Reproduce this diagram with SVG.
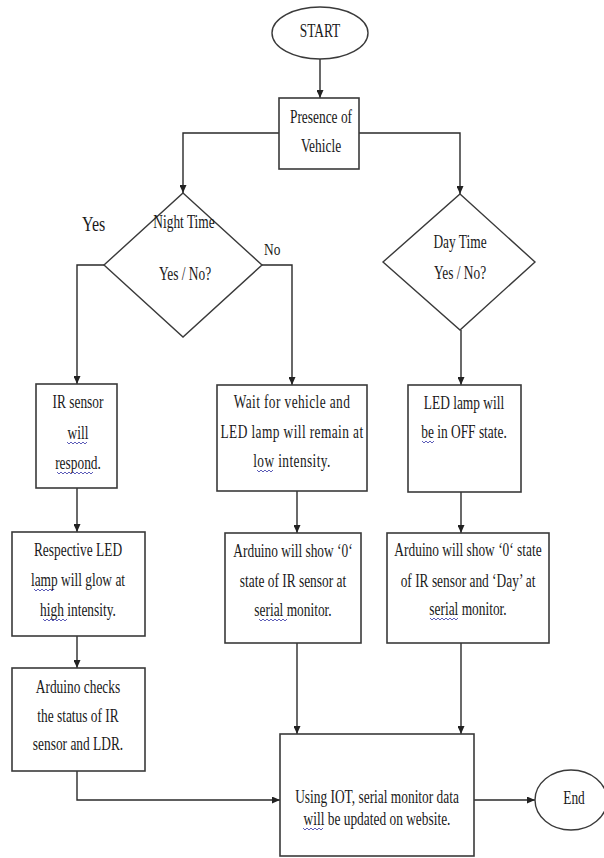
<svg xmlns="http://www.w3.org/2000/svg" width="604" height="858" viewBox="0 0 604 858">
<style>
.bg{fill:#ffffff}
.box{fill:#ffffff;stroke:#3a3a3a;stroke-width:1.6}
.term{fill:#ffffff;stroke:#3a3a3a;stroke-width:1.4}
.dia{fill:none;stroke:#3a3a3a;stroke-width:1.4}
.con{fill:none;stroke:#2a2a2a;stroke-width:1.4}
text{font-family:"Liberation Serif","Times New Roman",serif;font-size:13.4px;fill:#1a1a1a;text-anchor:middle}
.lab{font-size:16px;text-anchor:start}
.lab2{font-size:13.4px;text-anchor:start}
.sq{fill:none;stroke:#4b4bb0;stroke-width:0.9}
</style>
<defs>
<marker id="ah" viewBox="0 0 8 7" refX="8" refY="3.5" markerWidth="8" markerHeight="7" markerUnits="userSpaceOnUse" orient="auto">
<path d="M0,0 L8,3.5 L0,7 z" fill="#222"/>
</marker>
</defs>
<rect class="bg" x="0" y="0" width="604" height="858"/>

<g id="connectors">
<path class="con" d="M320,59 L320,98" marker-end="url(#ah)"/>
<path class="con" d="M279,133 L183,133 L183,193" marker-end="url(#ah)"/>
<path class="con" d="M359,133 L460,133 L460,194" marker-end="url(#ah)"/>
<path class="con" d="M104,265 L77,265 L77,384" marker-end="url(#ah)"/>
<path class="con" d="M262,265 L292,265 L292,385" marker-end="url(#ah)"/>
<path class="con" d="M461,330 L461,385" marker-end="url(#ah)"/>
<path class="con" d="M77,488 L77,532" marker-end="url(#ah)"/>
<path class="con" d="M77,636 L77,668" marker-end="url(#ah)"/>
<path class="con" d="M77,771 L77,800 L280,800" marker-end="url(#ah)"/>
<path class="con" d="M297,491 L297,533" marker-end="url(#ah)"/>
<path class="con" d="M461,492 L461,533" marker-end="url(#ah)"/>
<path class="con" d="M297,643 L297,734" marker-end="url(#ah)"/>
<path class="con" d="M461,643 L461,734" marker-end="url(#ah)"/>
<path class="con" d="M474,800 L535,800" marker-end="url(#ah)"/>
</g>

<g id="start">
<ellipse class="term" cx="320" cy="33" rx="48" ry="26"/>
<text transform="translate(320,37) scale(1,1.35)">START</text>
</g>

<g id="presence">
<rect class="box" x="279" y="98" width="80" height="71"/>
<text transform="translate(321,123) scale(1,1.35)">Presence of</text>
<text transform="translate(321,152) scale(1,1.35)">Vehicle</text>
</g>

<g id="night">
<polygon class="dia" points="183,193 262,265 183,337 104,265"/>
<text transform="translate(184,228) scale(1,1.35)">Night Time</text>
<text transform="translate(185,280) scale(1,1.35)">Yes / No?</text>
</g>

<g id="labels">
<text class="lab" transform="translate(82,231) scale(1,1.3)">Yes</text>
<text class="lab2" transform="translate(264,255) scale(1,1.3)">No</text>
</g>

<g id="day">
<polygon class="dia" points="460,194 535,262 460,330 383,262"/>
<text transform="translate(460,248) scale(1,1.35)">Day Time</text>
<text transform="translate(460,279) scale(1,1.35)">Yes / No?</text>
</g>

<g id="ir-sensor">
<rect class="box" x="36" y="384" width="81" height="104"/>
<text transform="translate(78,408) scale(1,1.35)">IR sensor</text>
<text transform="translate(78,439) scale(1,1.35)">will</text>
<text transform="translate(78,469) scale(1,1.35)">respond.</text>
</g>

<g id="respective-led">
<rect class="box" x="12" y="532" width="133" height="104"/>
<text transform="translate(78,556) scale(1,1.35)">Respective LED</text>
<text transform="translate(78,586) scale(1,1.35)">lamp will glow at</text>
<text transform="translate(78,616) scale(1,1.35)">high intensity.</text>
</g>

<g id="arduino-checks">
<rect class="box" x="12" y="668" width="133" height="103"/>
<text transform="translate(78,693) scale(1,1.35)">Arduino checks</text>
<text transform="translate(78,722) scale(1,1.35)">the status of IR</text>
<text transform="translate(78,750) scale(1,1.35)">sensor and LDR.</text>
</g>

<g id="wait">
<rect class="box" x="217" y="385" width="150" height="106"/>
<text transform="translate(292,408) scale(1,1.35)" letter-spacing="0.4">Wait for vehicle and</text>
<text transform="translate(292,438) scale(1,1.35)" letter-spacing="0.4">LED lamp will remain at</text>
<text transform="translate(292,467) scale(1,1.35)" letter-spacing="0.4">low intensity.</text>
</g>

<g id="arduino-night">
<rect class="box" x="225" y="533" width="136" height="110"/>
<text transform="translate(293,557) scale(1,1.35)">Arduino will show ‘0‘</text>
<text transform="translate(293,587) scale(1,1.35)">state of IR sensor at</text>
<text transform="translate(293,616) scale(1,1.35)">serial monitor.</text>
</g>

<g id="led-off">
<rect class="box" x="408" y="385" width="113" height="107"/>
<text transform="translate(464,409) scale(1,1.35)">LED lamp will</text>
<text transform="translate(464,438) scale(1,1.35)">be in OFF state.</text>
</g>

<g id="arduino-day">
<rect class="box" x="387" y="533" width="162" height="110"/>
<text transform="translate(468,556) scale(1,1.35)">Arduino will show ‘0‘ state</text>
<text transform="translate(468,587) scale(1,1.35)">of IR sensor and ‘Day’ at</text>
<text transform="translate(468,615) scale(1,1.35)">serial monitor.</text>
</g>

<g id="iot">
<rect class="box" x="280" y="734" width="194" height="122"/>
<text transform="translate(377,803) scale(1,1.35)">Using IOT, serial monitor data</text>
<text transform="translate(377,825) scale(1,1.35)">will be updated on website.</text>
</g>

<g id="end">
<ellipse class="term" cx="571" cy="800" rx="36" ry="30"/>
<text transform="translate(574,804) scale(1,1.35)">End</text>
</g>

<g id="spellcheck">
<path class="sq" d="M67,442 l2,2 l2,-2 l2,2 l2,-2 l2,2 l2,-2 l2,2 l2,-2 l2,2 l2,-2"/>
<path class="sq" d="M57,472 l2,2 l2,-2 l2,2 l2,-2 l2,2 l2,-2 l2,2 l2,-2 l2,2 l2,-2 l2,2 l2,-2 l2,2 l2,-2 l2,2 l2,-2 l2,2 l2,-2"/>
<path class="sq" d="M257,470 l2,2 l2,-2 l2,2 l2,-2 l2,2 l2,-2 l2,2 l2,-2"/>
<path class="sq" d="M34,589 l2,2 l2,-2 l2,2 l2,-2 l2,2 l2,-2 l2,2 l2,-2 l2,2 l2,-2"/>
<path class="sq" d="M43,619 l2,2 l2,-2 l2,2 l2,-2 l2,2 l2,-2 l2,2 l2,-2 l2,2 l2,-2 l2,2 l2,-2"/>
<path class="sq" d="M422,441 l2,2 l2,-2 l2,2 l2,-2 l2,2 l2,-2"/>
<path class="sq" d="M259,619 l2,2 l2,-2 l2,2 l2,-2 l2,2 l2,-2 l2,2 l2,-2 l2,2 l2,-2 l2,2 l2,-2 l2,2 l2,-2"/>
<path class="sq" d="M430,618 l2,2 l2,-2 l2,2 l2,-2 l2,2 l2,-2 l2,2 l2,-2 l2,2 l2,-2 l2,2 l2,-2 l2,2 l2,-2"/>
<path class="sq" d="M303,828 l2,2 l2,-2 l2,2 l2,-2 l2,2 l2,-2 l2,2 l2,-2 l2,2 l2,-2"/>
</g>
</svg>
